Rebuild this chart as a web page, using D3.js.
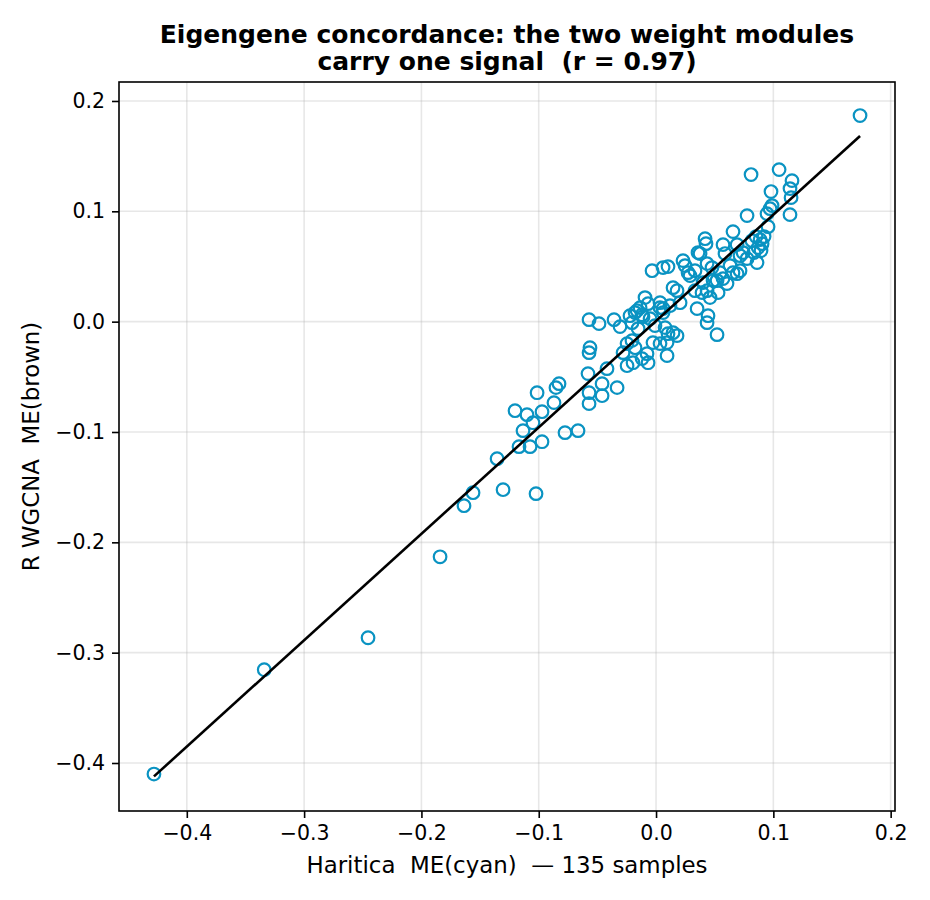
<!DOCTYPE html>
<html>
<head>
<meta charset="utf-8">
<script src="https://cdn.jsdelivr.net/npm/d3@7"></script>
<style>
  body { margin: 0; background: #fff; }
  svg { display: block; font-family: "DejaVu Sans", sans-serif; }
  svg text { white-space: pre; }
</style>
</head>
<body>
<script>
// ===============================
// DATA
// ===============================
const haritica = [
  -0.428, -0.334, -0.2455, -0.1841, -0.1637, -0.156, -0.1304, -0.1023, -0.1355, -0.1168,
  -0.1074, -0.0972, -0.0776, -0.0665, -0.1134, -0.1049, -0.1202, -0.110, -0.0972, -0.1014,
  -0.087, -0.0853, -0.0827, -0.0571, -0.0486, -0.0358, -0.0307, -0.0563, -0.0571, -0.058,
  -0.046, -0.0418, -0.0332, -0.0571, -0.0571, -0.046, -0.0281, -0.0247, -0.0247, -0.0196,
  -0.0205, -0.0179, -0.0222, -0.0205, -0.0179, -0.0136, -0.0119, -0.0068, -0.0051, -0.0009,
  0.0034, 0.006, 0.0077, 0.0102, 0.0145, 0.0179, -0.0026, 0.0034, 0.0094, -0.0077,
  -0.0119, -0.0068, -0.0162, -0.0111, 0.006, 0.0119, 0.0205, -0.0094, 0.0034, -0.0153,
  0.0094, 0.0179, 0.0145, -0.0034, 0.006, 0.0102, 0.023, 0.0247, 0.0273, 0.029,
  0.0375, 0.0426, 0.0418, 0.0571, 0.0588, 0.0435, 0.0477, 0.0546, 0.0631, 0.0691,
  0.0332, 0.0392, 0.0435, 0.046, 0.0529, 0.0605, 0.052, 0.035, 0.0443, 0.0401,
  0.0486, 0.0571, 0.0656, 0.0716, 0.0358, 0.0332, 0.0656, 0.0691, 0.0853, 0.0887,
  0.0904, 0.087, 0.0835, 0.0742, 0.0716, 0.0776, 0.0861, 0.0776, 0.0946, 0.0989,
  0.0972, 0.1142, 0.081, 0.1049, 0.1159, 0.1142, 0.1151, 0.098, 0.1739, 0.0955,
  0.0921, 0.0895, 0.0818, 0.0435, 0.052
];

const wgcna = [
  -0.410, -0.3155, -0.2865, -0.2131, -0.1668, -0.155, -0.1523, -0.1559, -0.1242, -0.1133,
  -0.1133, -0.1088, -0.1006, -0.0988, -0.0988, -0.0916, -0.0807, -0.0843, -0.0816, -0.0644,
  -0.0734, -0.0598, -0.0562, 0.0018, -0.0018, 0.0018, -0.0045, -0.0236, -0.0281, -0.0471,
  -0.0562, -0.0426, -0.0598, -0.0644, -0.0743, -0.0671, -0.0281, -0.0199, -0.0399, -0.0372,
  -0.0172, -0.0236, 0.0054, -0.0009, 0.0082, 0.0127, 0.0063, 0.0163, 0.0027, -0.0036,
  0.0127, 0.0082, -0.0054, -0.0109, -0.010, -0.0127, -0.019, -0.0199, -0.0308, -0.029,
  -0.0335, -0.0372, 0.010, 0.0045, 0.0118, 0.0145, 0.0172, 0.0218, 0.0172, -0.0063,
  -0.019, 0.0281, 0.0308, 0.0462, 0.049, 0.0499, 0.0553, 0.0508, 0.0444, 0.0417,
  0.0617, 0.0707, 0.0752, 0.0698, 0.0617, 0.0526, 0.049, 0.0444, 0.0508, 0.0435,
  0.0281, 0.0263, 0.0281, 0.0218, 0.0263, 0.0345, 0.0372, 0.0118, 0.0054, 0.0354,
  0.0372, 0.039, 0.0444, 0.0462, 0.0626, 0.0462, 0.0816, 0.0698, 0.0771, 0.0743,
  0.0707, 0.0671, 0.0626, 0.0626, 0.0598, 0.0571, 0.0535, 0.0961, 0.0979, 0.1052,
  0.1024, 0.097, 0.1333, 0.1378, 0.1278, 0.1206, 0.1124, 0.1179, 0.1868, 0.0861,
  0.0771, 0.0644, 0.0734, -0.0009, -0.0118
];

const xTicks = [-0.4, -0.3, -0.2, -0.1, 0.0, 0.1, 0.2];
const yTicks = [-0.4, -0.3, -0.2, -0.1, 0.0, 0.1, 0.2];

const titleLines = [
  "Eigengene concordance: the two weight modules",
  "carry one signal  (r = 0.97)"
];
const xLabel = "Haritica  ME(cyan)  \u2014 135 samples";
const yLabel = "R WGCNA  ME(brown)";

// ===============================
// CONFIGURATION
// ===============================
const width = 930;
const height = 900;
const margin = { top: 82, right: 35, bottom: 89, left: 119 };
const innerW = width - margin.left - margin.right;
const innerH = height - margin.top - margin.bottom;
const markerColor = "#0a93c2";

const svg = d3.select("body")
  .append("svg")
  .attr("width", width)
  .attr("height", height);

svg.append("rect")
  .attr("width", width)
  .attr("height", height)
  .attr("fill", "#fff");

const g = svg.append("g")
  .attr("transform", `translate(${margin.left},${margin.top})`);

// ===============================
// SCALES
// ===============================
const x = d3.scaleLinear().domain([-0.4578, 0.2037]).range([0, innerW]);
const y = d3.scaleLinear().domain([-0.4435, 0.2172]).range([innerH, 0]);
const fmt = d3.format(".1f");

// grid
g.append("g")
  .selectAll("line")
  .data(xTicks)
  .join("line")
  .attr("x1", d => x(d)).attr("x2", d => x(d))
  .attr("y1", 0).attr("y2", innerH)
  .attr("stroke", "#b0b0b0").attr("stroke-opacity", 0.3).attr("stroke-width", 1.6);

g.append("g")
  .selectAll("line")
  .data(yTicks)
  .join("line")
  .attr("y1", d => y(d)).attr("y2", d => y(d))
  .attr("x1", 0).attr("x2", innerW)
  .attr("stroke", "#b0b0b0").attr("stroke-opacity", 0.3).attr("stroke-width", 1.6);

// ===============================
// POINTS + FIT
// ===============================
const points = haritica.map((v, i) => ({ x: v, y: wgcna[i] }));

g.append("g")
  .selectAll("circle")
  .data(points)
  .join("circle")
  .attr("cx", d => x(d.x))
  .attr("cy", d => y(d.y))
  .attr("r", 6.3)
  .attr("fill", "none")
  .attr("stroke", markerColor)
  .attr("stroke-width", 2.2);

// least squares fit
const mx = d3.mean(points, d => d.x);
const my = d3.mean(points, d => d.y);
const slope = d3.sum(points, d => (d.x - mx) * (d.y - my)) / d3.sum(points, d => (d.x - mx) ** 2);
const intercept = my - slope * mx;
const [x0, x1] = d3.extent(points, d => d.x);

g.append("line")
  .attr("x1", x(x0)).attr("y1", y(intercept + slope * x0))
  .attr("x2", x(x1)).attr("y2", y(intercept + slope * x1))
  .attr("stroke", "#000")
  .attr("stroke-width", 2.6);

// ===============================
// AXES
// ===============================
const xAxis = g.append("g")
  .attr("transform", `translate(0,${innerH})`)
  .call(d3.axisBottom(x).tickValues(xTicks).tickFormat(fmt).tickSize(7).tickPadding(7));

const yAxis = g.append("g")
  .call(d3.axisLeft(y).tickValues(yTicks).tickFormat(fmt).tickSize(7).tickPadding(7));

[xAxis, yAxis].forEach(a => {
  a.select(".domain").remove();
  a.selectAll("line").attr("stroke", "#000").attr("stroke-width", 1.6);
  a.selectAll("text")
    .attr("font-family", "DejaVu Sans")
    .attr("font-size", "20.5px")
    .attr("fill", "#000");
});

// frame
g.append("rect")
  .attr("width", innerW)
  .attr("height", innerH)
  .attr("fill", "none")
  .attr("stroke", "#000")
  .attr("stroke-width", 1.6);

// ===============================
// TEXTS
// ===============================
svg.append("text")
  .attr("x", margin.left + innerW / 2)
  .attr("y", 43)
  .attr("text-anchor", "middle")
  .attr("font-size", "25px")
  .attr("font-weight", "bold")
  .selectAll("tspan")
  .data(titleLines)
  .join("tspan")
  .attr("x", margin.left + innerW / 2)
  .attr("dy", (d, i) => i === 0 ? 0 : 27)
  .text(d => d);

svg.append("text")
  .attr("x", margin.left + innerW / 2)
  .attr("y", 873)
  .attr("text-anchor", "middle")
  .attr("font-size", "22.9px")
  .text(xLabel);

svg.append("text")
  .attr("transform", `translate(39,${margin.top + innerH / 2}) rotate(-90)`)
  .attr("text-anchor", "middle")
  .attr("font-size", "22.9px")
  .text(yLabel);
</script>
</body>
</html>
